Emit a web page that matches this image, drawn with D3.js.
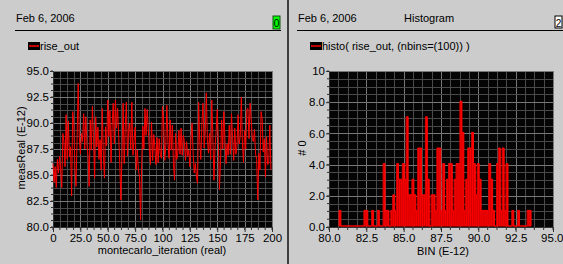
<!DOCTYPE html>
<html>
<head>
<meta charset="utf-8">
<script src="https://cdn.jsdelivr.net/npm/d3@7"></script>
<style>
  body { margin: 0; background: #cccccc; }
  svg { display: block; }
  text { font-family: "Liberation Sans", Arial, sans-serif; font-size: 11px; fill: #000; }
</style>
</head>
<body>
<div id="chart"></div>
<script>
// rise_out per montecarlo iteration (E-12)
const riseOut = [
  86.1, 84.3, 85.8, 83.8, 86.5, 85.2, 86.8, 85.5, 83.8, 89.0,
  88.2, 85.8, 90.8, 86.5, 90.2, 86.8, 87.7, 83.0, 91.1, 90.0,
  85.6, 83.9, 88.5, 93.8, 88.7, 87.0, 89.0, 88.2, 90.9, 87.5,
  90.6, 88.0, 86.8, 83.9, 90.3, 87.4, 91.6, 88.5, 84.7, 90.6,
  87.7, 89.6, 86.5, 88.4, 85.5, 91.4, 86.9, 84.7, 89.6, 87.8,
  92.2, 88.7, 91.2, 86.2, 89.8, 91.9, 88.0, 92.2, 89.5, 91.4,
  88.7, 86.0, 82.6, 87.0, 91.9, 86.1, 89.6, 92.0, 86.8, 89.2,
  90.0, 87.5, 92.0, 86.9, 88.3, 89.6, 85.5, 87.4, 85.5, 84.8,
  80.7, 86.0, 89.7, 87.5, 91.4, 88.8, 91.3, 89.5, 87.5, 86.0,
  90.1, 86.4, 88.9, 87.7, 86.0, 88.6, 86.2, 88.5, 87.0, 86.6,
  91.6, 90.3, 86.4, 87.8, 91.7, 88.0, 86.6, 90.3, 87.4, 89.8,
  86.1, 84.5, 89.0, 86.5, 87.2, 89.3, 87.0, 89.5, 86.9, 88.8,
  88.2, 86.4, 88.2, 86.8, 87.4, 85.8, 88.6, 90.0, 87.0, 85.2,
  86.1, 84.8, 84.2, 92.0, 88.3, 86.5, 90.0, 91.9, 87.6, 89.0,
  92.9, 88.4, 87.1, 89.0, 86.5, 92.2, 88.7, 84.5, 87.7, 89.2,
  91.3, 88.2, 83.6, 86.4, 90.3, 87.5, 91.1, 88.4, 86.1, 88.0,
  86.9, 89.8, 87.0, 90.9, 88.5, 86.4, 89.5, 87.0, 87.7, 90.8,
  88.0, 88.7, 92.5, 88.0, 86.2, 89.3, 87.5, 91.3, 91.4, 88.5,
  91.9, 90.3, 88.5, 88.2, 89.4, 87.0, 86.5, 82.6, 87.1, 85.5,
  91.1, 90.4, 87.2, 88.5, 84.8, 88.7, 86.0, 86.1, 89.8, 85.5
];

// histo(rise_out, nbins=100): counts per bin, bins span histLo..histHi
const histLo = 80.67;
const histHi = 93.53;
const histCounts = [
  1, 0, 0, 0, 0, 0, 0, 0, 0, 0,
  0, 0, 0, 1, 1, 0, 0, 1, 0, 0,
  1, 0, 0, 4, 1, 1, 0, 1, 2, 1,
  4, 3, 3, 4, 3, 7, 2, 2, 3, 2,
  1, 5, 5, 2, 2, 7, 3, 0, 2, 2,
  1, 5, 5, 1, 4, 1, 3, 4, 4, 1,
  3, 4, 4, 8, 6, 1, 3, 5, 5, 6,
  4, 2, 4, 3, 1, 1, 1, 1, 4, 3,
  1, 0, 4, 5, 1, 5, 1, 4, 0, 0,
  1, 0, 0, 1, 0, 0, 0, 0, 1, 1
];

const leftXTicks = [0, 25, 50, 75, 100, 125, 150, 175, 200];
const leftXLabels = ["0", "25.0", "50.0", "75.0", "100", "125", "150", "175", "200"];
const leftYTicks = [80, 82.5, 85, 87.5, 90, 92.5, 95];
const rightXTicks = [80, 82.5, 85, 87.5, 90, 92.5, 95];
const rightYTicks = [0, 2, 4, 6, 8, 10];
const rightYLabels = ["0.0", "2.0", "4.0", "6.0", "8.0", "10"];

const width = 563, height = 264;
const svg = d3.select("#chart").append("svg")
  .attr("width", width)
  .attr("height", height);

svg.append("rect").attr("width", width).attr("height", height).attr("fill", "#cccccc");

// panel separator
svg.append("line")
  .attr("x1", 288).attr("x2", 288).attr("y1", 0).attr("y2", height)
  .attr("stroke", "#111").attr("stroke-width", 1.5);

// headers
function header(x0, x1, title) {
  svg.append("text").attr("x", x0 + 1).attr("y", 22).text("Feb 6, 2006");
  if (title) svg.append("text").attr("x", 404).attr("y", 22).text(title);
  svg.append("line")
    .attr("x1", x0).attr("x2", x1).attr("y1", 30.5).attr("y2", 30.5)
    .attr("stroke", "#000").attr("stroke-width", 1);
}
header(15, 281, null);
header(297, 563, "Histogram");

// plot id boxes
svg.append("rect").attr("x", 273).attr("y", 16).attr("width", 7).attr("height", 13)
  .attr("fill", "#00ff00").attr("stroke", "#105010");
svg.append("text").attr("x", 276.5).attr("y", 27).attr("text-anchor", "middle")
  .style("font-size", "10px").text("0");
svg.append("rect").attr("x", 555).attr("y", 16).attr("width", 7).attr("height", 12)
  .attr("fill", "#ffffff").attr("stroke", "#000");
svg.append("text").attr("x", 558.5).attr("y", 26.5).attr("text-anchor", "middle")
  .style("font-size", "10px").text("2");

// legends
function legend(x, label) {
  svg.append("rect").attr("x", x).attr("y", 42).attr("width", 12).attr("height", 8).attr("fill", "#000");
  svg.append("line").attr("x1", x + 1).attr("x2", x + 11).attr("y1", 46).attr("y2", 46)
    .attr("stroke", "#ff0000").attr("stroke-width", 1.5);
  svg.append("text").attr("x", x + 12).attr("y", 50).text(label);
}
legend(28, "rise_out");
legend(310, "histo( rise_out, (nbins=(100)) )");

// plot frame with grid and axes
function plotFrame(x, y, xTicks, yTicks, xLabels, yLabels) {
  const [l, r] = x.range();
  const [b, t] = y.range();
  svg.append("rect").attr("x", l).attr("y", t).attr("width", r - l).attr("height", b - t)
    .attr("fill", "#050505");

  const xStep = (xTicks[1] - xTicks[0]) / 4;
  const yStep = (yTicks[1] - yTicks[0]) / 4;
  const xMinor = d3.range(xTicks[0], xTicks[xTicks.length - 1] + xStep / 2, xStep);
  const yMinor = d3.range(yTicks[0], yTicks[yTicks.length - 1] + yStep / 2, yStep);

  const g = svg.append("g");
  g.selectAll(".vx").data(xMinor).enter().append("line")
    .attr("x1", d => Math.round(x(d)) + 0.5).attr("x2", d => Math.round(x(d)) + 0.5)
    .attr("y1", t).attr("y2", b)
    .attr("stroke", (d, i) => i % 4 === 0 ? "#777" : "#4a4a4a");
  g.selectAll(".hy").data(yMinor).enter().append("line")
    .attr("y1", d => Math.round(y(d)) + 0.5).attr("y2", d => Math.round(y(d)) + 0.5)
    .attr("x1", l).attr("x2", r)
    .attr("stroke", (d, i) => i % 4 === 0 ? "#777" : "#4a4a4a");

  // axes
  const xa = svg.append("g").attr("transform", `translate(0,${b})`)
    .call(d3.axisBottom(x).tickValues(xTicks).tickSize(5).tickPadding(2)
      .tickFormat((d, i) => xLabels[i]));
  const ya = svg.append("g").attr("transform", `translate(${l},0)`)
    .call(d3.axisLeft(y).tickValues(yTicks).tickSize(3).tickPadding(1)
      .tickFormat((d, i) => yLabels[i]));
  [xa, ya].forEach(a => {
    a.select(".domain").attr("stroke", "#333");
    a.selectAll(".tick line").attr("stroke", "#333");
    a.selectAll("text").style("font-size", "11.5px").attr("fill", "#000")
      .style("font-family", '"Liberation Sans", Arial, sans-serif');
  });
  // keep the last x label inside the window
  xa.selectAll(".tick text").filter((d, i, n) => i === n.length - 1 && r > 540)
    .attr("text-anchor", "end").attr("x", 10);
  // minor ticks
  svg.append("g").selectAll("line").data(xMinor).enter().append("line")
    .attr("x1", d => x(d)).attr("x2", d => x(d)).attr("y1", b).attr("y2", b + 3)
    .attr("stroke", "#333");
  svg.append("g").selectAll("line").data(yMinor).enter().append("line")
    .attr("y1", d => y(d)).attr("y2", d => y(d)).attr("x1", l).attr("x2", l - 2)
    .attr("stroke", "#333");
}

// left: rise_out vs iteration
const x1 = d3.scaleLinear().domain([0, 200]).range([53, 272]);
const y1 = d3.scaleLinear().domain([80, 95]).range([227, 71]);
plotFrame(x1, y1, leftXTicks, leftYTicks, leftXLabels, leftYTicks.map(d3.format(".1f")));

svg.append("path")
  .datum(riseOut)
  .attr("fill", "none")
  .attr("stroke", "#ff0000")
  .attr("stroke-width", 1)
  .attr("d", d3.line().x((d, i) => x1(i)).y(d => y1(d)));

svg.append("text").attr("x", 162).attr("y", 254).attr("text-anchor", "middle")
  .text("montecarlo_iteration (real)");
svg.append("text").attr("transform", "translate(25,148) rotate(-90)").attr("text-anchor", "middle")
  .text("measReal (E-12)");

// right: histogram
const x2 = d3.scaleLinear().domain([80, 95]).range([329, 553]);
const y2 = d3.scaleLinear().domain([0, 10]).range([227, 71]);
plotFrame(x2, y2, rightXTicks, rightYTicks, rightXTicks.map(d3.format(".1f")), rightYLabels);

const binW = (histHi - histLo) / histCounts.length;
const steps = histCounts.map((c, i) => ({ x: histLo + i * binW, c }));
steps.push({ x: histHi, c: histCounts[histCounts.length - 1] });

svg.append("path")
  .datum(steps)
  .attr("fill", "#ff0000")
  .attr("stroke", "#ff0000")
  .attr("stroke-width", 1)
  .attr("d", d3.area().curve(d3.curveStepAfter)
    .x(d => x2(d.x)).y0(y2(0) - 1).y1(d => y2(d.c) - 1));

svg.append("g").selectAll("line").data(steps.slice(1, -1)).enter().append("line")
  .attr("x1", d => x2(d.x)).attr("x2", d => x2(d.x))
  .attr("y1", y2(0) - 1).attr("y2", d => y2(d.c))
  .attr("stroke", "#b00000").attr("stroke-width", 0.6);

svg.append("text").attr("x", 443).attr("y", 255).attr("text-anchor", "middle")
  .text("BIN (E-12)");
svg.append("text").attr("transform", "translate(306,148) rotate(-90)").attr("text-anchor", "middle")
  .text("# 0");
</script>
</body>
</html>
